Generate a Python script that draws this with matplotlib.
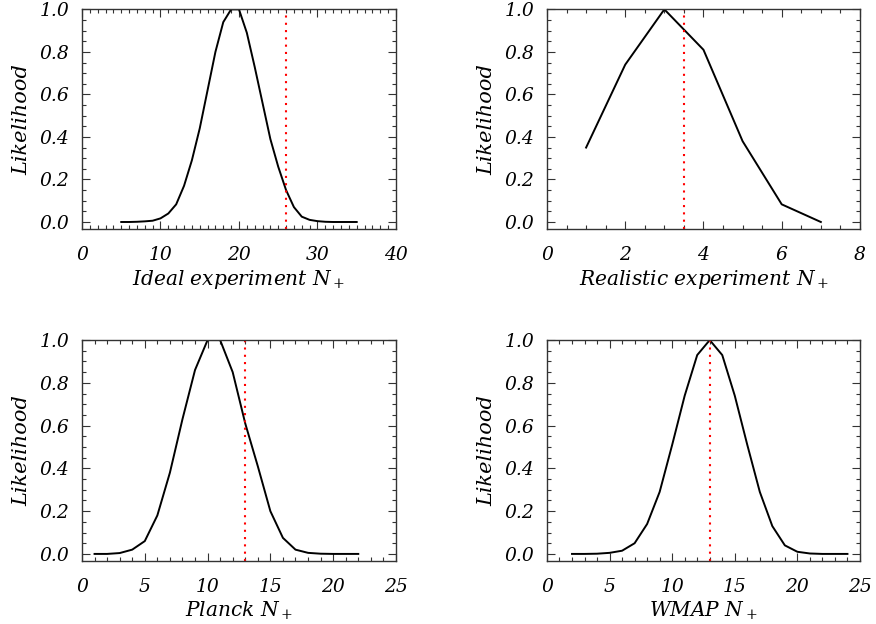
import matplotlib
matplotlib.use('Agg')
import matplotlib.pyplot as plt
from matplotlib.ticker import MultipleLocator

plt.rcParams['font.family'] = 'DejaVu Serif'
plt.rcParams['font.style'] = 'italic'
plt.rcParams['mathtext.fontset'] = 'dejavuserif'

# likelihood curves
ideal_x = list(range(5, 36))
ideal_y = [0.0, 0.0, 0.001, 0.003, 0.006, 0.017, 0.04, 0.083, 0.17, 0.29,
           0.44, 0.62, 0.80, 0.94, 1.0, 1.0, 0.89, 0.73, 0.56, 0.39,
           0.26, 0.15, 0.07, 0.025, 0.01, 0.004, 0.001, 0.0, 0.0, 0.0, 0.0]
ideal_mark = 26

real_x = [1, 2, 3, 4, 5, 6, 7]
real_y = [0.35, 0.74, 1.0, 0.81, 0.38, 0.083, 0.0]
real_mark = 3.5

planck_x = list(range(1, 23))
planck_y = [0.0, 0.0, 0.004, 0.02, 0.06, 0.18, 0.38, 0.63, 0.86, 1.0,
            1.0, 0.85, 0.61, 0.41, 0.20, 0.075, 0.02, 0.005, 0.001, 0.0,
            0.0, 0.0]
planck_mark = 13

wmap_x = list(range(2, 25))
wmap_y = [0.0, 0.0, 0.001, 0.005, 0.015, 0.05, 0.14, 0.29, 0.51, 0.74,
          0.93, 1.0, 0.93, 0.74, 0.51, 0.29, 0.13, 0.04, 0.01, 0.002,
          0.0, 0.0, 0.0]
wmap_mark = 13

panels = [
    (ideal_x, ideal_y, ideal_mark, 'Ideal experiment', 40, 10, 1),
    (real_x, real_y, real_mark, 'Realistic experiment', 8, 2, 0.5),
    (planck_x, planck_y, planck_mark, 'Planck', 25, 5, 1),
    (wmap_x, wmap_y, wmap_mark, 'WMAP', 25, 5, 1),
]

boxes = [
    [0.0936, 0.633, 0.3584, 0.352],
    [0.6244, 0.633, 0.3573, 0.352],
    [0.0936, 0.101, 0.3584, 0.354],
    [0.6244, 0.101, 0.3573, 0.354],
]

fig = plt.figure(figsize=(8.76, 6.24), dpi=100)

for (x, y, mark, name, xmax, major, minor), box in zip(panels, boxes):
    ax = fig.add_axes(box)
    ax.plot(x, y, color='black', lw=1.4)
    ax.axvline(mark, color='red', lw=1.5, linestyle=(0, (1, 2.5)))
    ax.set_xlim(0, xmax)
    ax.set_ylim(-0.033, 1.0)
    ax.xaxis.set_major_locator(MultipleLocator(major))
    ax.xaxis.set_minor_locator(MultipleLocator(minor))
    ax.yaxis.set_major_locator(MultipleLocator(0.2))
    ax.yaxis.set_minor_locator(MultipleLocator(0.05))
    ax.yaxis.set_major_formatter(lambda v, p: '%.1f' % v)
    ax.tick_params(which='both', direction='in', top=True, right=True,
                   labelsize=13.5, color='#333333')
    ax.tick_params(which='major', length=6, width=0.8)
    ax.tick_params(which='minor', length=3, width=0.8)
    ax.tick_params(axis='x', which='major', pad=12)
    ax.tick_params(axis='y', which='major', pad=9)
    for s in ax.spines.values():
        s.set_linewidth(1.0)
        s.set_color('#333333')
    ax.set_xlabel(name + r' $N_+$', fontsize=14.5, labelpad=3)
    ax.set_ylabel('Likelihood', fontsize=15, labelpad=6)

plt.savefig('out.png', dpi=100)
